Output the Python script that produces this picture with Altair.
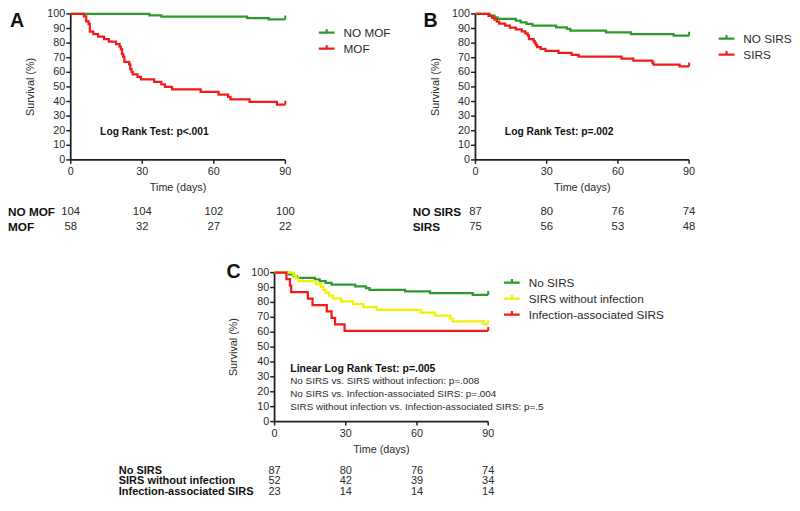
import altair as alt
import pandas as pd

# ---------------- data ----------------
x_ticks = [0, 30, 60, 90]
y_ticks = [0, 10, 20, 30, 40, 50, 60, 70, 80, 90, 100]
risk_times = [0, 30, 60, 90]

# Panel A
A_groups = ["NO MOF", "MOF"]
A_nomof_t = [0, 33, 38, 74, 83, 90]
A_nomof_v = [100, 99.0, 98.1, 97.1, 96.2, 96.2]
A_mof_t = [0, 5.5, 6.5, 7.5, 8, 9.5, 11.5, 14, 16, 19, 20.5, 21, 21.5, 22, 22.5, 24.5,
           25, 25.5, 26, 28, 29.5, 35, 38, 39.5, 42.5, 54.5, 62, 66, 67, 75, 86.5, 90]
A_mof_v = [100, 98.3, 94.8, 93.1, 87.9, 86.2, 84.5, 82.8, 81.0, 79.3, 77.6, 75.9, 72.4, 70.7,
           67.2, 65.5, 62.1, 60.3, 58.6, 56.9, 55.2, 53.4, 51.7, 50.0, 48.3, 46.6, 44.8, 43.1,
           41.4, 39.7, 37.9, 37.9]
A_risk_nomof = [104, 104, 102, 100]
A_risk_mof = [58, 32, 27, 22]
A_note = "Log Rank Test: p<.001"

# Panel B
B_groups = ["NO SIRS", "SIRS"]
nosirs_t = [0, 6, 8, 9.3, 17, 19, 21.5, 24, 34, 38.5, 40, 55, 65.5, 83.5, 90]
nosirs_v = [100, 98.85, 97.7, 96.55, 95.4, 94.25, 93.1, 91.95, 90.8, 89.66, 88.5, 87.36,
            86.2, 85.06, 85.06]
B_sirs_t = [0, 5.5, 7, 8, 9, 10, 12.5, 14.5, 17, 19.5, 21, 22, 22.5, 24.5, 25, 25.5, 26,
            27.5, 29.5, 35, 40.5, 43.5, 61.5, 66.5, 74.5, 75, 86, 90]
B_sirs_v = [100, 98.67, 97.33, 96.0, 94.67, 93.33, 92.0, 90.67, 89.33, 88.0, 86.67, 85.33,
            82.67, 81.33, 80.0, 78.67, 77.33, 76.0, 74.67, 73.33, 72.0, 70.67, 69.33, 68.0,
            66.67, 65.33, 64.0, 64.0]
B_risk_nosirs = [87, 80, 76, 74]
B_risk_sirs = [75, 56, 53, 48]
B_note = "Log Rank Test: p=.002"

# Panel C
C_groups = ["No SIRS", "SIRS without infection", "Infection-associated SIRS"]
C_noinf_t = [0, 8, 9, 10, 17.5, 19.5, 20.5, 21.5, 23, 24.5, 28, 33, 37.5, 43, 61.5, 67.5,
             74, 75, 88, 90]
C_noinf_v = [100, 98.08, 96.15, 94.23, 92.31, 90.38, 88.46, 86.54, 84.62, 82.69, 80.77,
             78.85, 76.92, 75.0, 73.08, 71.15, 69.23, 67.31, 65.38, 65.38]
C_inf_t = [0, 5, 6.5, 7, 14, 16, 22, 24, 25.5, 29.5, 90]
C_inf_v = [100, 95.65, 91.3, 86.96, 82.61, 78.26, 73.91, 69.57, 65.22, 60.87, 60.87]
C_risk_nosirs = [87, 80, 76, 74]
C_risk_noinf = [52, 42, 39, 34]
C_risk_inf = [23, 14, 14, 14]
C_note_main = "Linear Log Rank Test: p=.005"
C_notes = ["No SIRS vs. SIRS without infection: p=.008",
           "No SIRS vs. Infection-associated SIRS: p=.004",
           "SIRS without infection vs. Infection-associated SIRS: p=.5"]

# ---------------- styling ----------------
S = 0.98
def P(v):          # sizes
    return round(v * S, 2)
def PX(v):         # horizontal positions (reference pixels -> chart pixels)
    return round(v * S, 2)
def PY(v):         # vertical positions
    return round(v * S + 1, 2)

FONT = "Liberation Sans"
AX = "#1e1e1e"
TXT = "#2a2a2a"
GREEN = "#2e9a2e"
RED = "#f01c1c"
YELLOW = "#f2f200"
SYM = "M-1,0L1,0M0,0L0,-0.45"
one = pd.DataFrame({"k": [0]})


def curves_df(groups, ts, vs):
    rows = []
    for g, t, v in zip(groups, ts, vs):
        for a, b in zip(t, v):
            rows.append({"g": g, "t": a, "v": b})
    return pd.DataFrame(rows)


def panel(groups, ts, vs, colors, geo, legend_xy, letter, letter_xy, ytitle_x,
          xtitle_y, notes):
    x0, x90, y0, y100 = geo
    xs = alt.Scale(domain=[0, 90], range=[PX(x0), PX(x90)], nice=False, zero=False)
    ys = alt.Scale(domain=[0, 100], range=[PY(y0), PY(y100)], nice=False, zero=False)
    cs = alt.Scale(domain=groups, range=colors)
    leg = alt.Legend(orient="none", legendX=PX(legend_xy[0]), legendY=PY(legend_xy[1]),
                     title=None, symbolType=SYM, symbolSize=P(16) ** 2,
                     symbolStrokeWidth=P(2.2), labelFont=FONT, labelFontSize=P(12),
                     labelColor=TXT, labelOffset=P(8), rowPadding=0, padding=0)
    X = lambda: alt.X("t:Q", scale=xs, axis=None)
    Y = lambda: alt.Y("v:Q", scale=ys, axis=None)
    C = lambda: alt.Color("g:N", scale=cs, legend=leg)

    df = curves_df(groups, ts, vs)
    lines = alt.Chart(df).mark_line(interpolate="step-after", strokeWidth=P(2.3)).encode(
        x=X(), y=Y(), color=C())
    ends = pd.DataFrame({"g": groups, "t": [t[-1] for t in ts], "v": [v[-1] for v in vs]})
    endticks = alt.Chart(ends).mark_rule(strokeWidth=P(2), y2Offset=-P(4)).encode(
        x=X(), y=Y(), y2=alt.Y2("v:Q"), color=C())

    ydom = alt.Chart(one).mark_rule(color=AX, strokeWidth=P(1.8)).encode(
        x=alt.XDatum(0, scale=xs, axis=None), y=alt.YDatum(0, scale=ys, axis=None),
        y2=alt.Y2Datum(100))
    xdom = alt.Chart(one).mark_rule(color=AX, strokeWidth=P(1.8)).encode(
        y=alt.YDatum(0, scale=ys, axis=None), x=alt.XDatum(0, scale=xs, axis=None),
        x2=alt.X2Datum(90))
    yt = pd.DataFrame({"v": y_ticks})
    ytick = alt.Chart(yt).mark_rule(color=AX, strokeWidth=P(1.5), xOffset=-P(4.5)).encode(
        x=alt.XDatum(0, scale=xs, axis=None), x2=alt.X2Datum(0), y=Y())
    ylab = alt.Chart(yt).mark_text(align="right", baseline="middle", dx=-P(5.5),
                                   font=FONT, fontSize=P(11), color=TXT).encode(
        x=alt.XDatum(0, scale=xs, axis=None), y=Y(), text="v:Q")
    xt = pd.DataFrame({"t": x_ticks})
    xtick = alt.Chart(xt).mark_rule(color=AX, strokeWidth=P(1.5), y2Offset=P(4)).encode(
        x=X(), y=alt.YDatum(0, scale=ys, axis=None), y2=alt.Y2Datum(0))
    xlab = alt.Chart(xt).mark_text(align="center", baseline="middle", dy=P(12.5),
                                   font=FONT, fontSize=P(11), color=TXT).encode(
        x=X(), y=alt.YDatum(0, scale=ys, axis=None), text="t:Q")
    xtitle = alt.Chart(one).mark_text(text="Time (days)", font=FONT, fontSize=P(11),
                                      color=TXT, baseline="middle").encode(
        x=alt.XDatum(45, scale=xs, axis=None), y=alt.value(PY(xtitle_y)))
    ytitle = alt.Chart(one).mark_text(text="Survival (%)", font=FONT, fontSize=P(11),
                                      color=TXT, angle=270, baseline="middle").encode(
        x=alt.value(PX(ytitle_x)), y=alt.YDatum(50, scale=ys, axis=None))
    lab = alt.Chart(one).mark_text(text=letter, font=FONT, fontSize=P(20), fontWeight="bold",
                                   color="#111", align="left", baseline="middle").encode(
        x=alt.value(PX(letter_xy[0])), y=alt.value(PY(letter_xy[1])))
    layers = [ydom, xdom, ytick, ylab, xtick, xlab, xtitle, ytitle, lab, lines, endticks]
    for (txt, nx, ny, size, bold) in notes:
        layers.append(alt.Chart(one).mark_text(
            text=txt, font=FONT, fontSize=P(size), fontWeight="bold" if bold else "normal",
            color="#111" if bold else TXT, align="left", baseline="middle").encode(
            x=alt.value(PX(nx)), y=alt.value(PY(ny))))
    return alt.layer(*layers)


def risk(groups, counts, geo, label_x, row_y, label_size=12, num_size=11.5):
    x0, x90 = geo
    xs = alt.Scale(domain=[0, 90], range=[PX(x0), PX(x90)], nice=False, zero=False)
    ys = alt.Scale(type="point", domain=groups, range=[PY(row_y[0]), PY(row_y[1])],
                   padding=0)
    rows = []
    for g, c in zip(groups, counts):
        for t, n in zip(risk_times, c):
            rows.append({"g": g, "t": t, "n": n})
    df = pd.DataFrame(rows)
    nums = alt.Chart(df).mark_text(font=FONT, fontSize=P(num_size), color=TXT,
                                   baseline="middle").encode(
        x=alt.X("t:Q", scale=xs, axis=None), y=alt.Y("g:N", scale=ys, axis=None), text="n:Q")
    labs = alt.Chart(pd.DataFrame({"g": groups})).mark_text(
        font=FONT, fontSize=P(label_size), fontWeight="bold", color="#111", align="left",
        baseline="middle").encode(
        x=alt.value(PX(label_x)), y=alt.Y("g:N", scale=ys, axis=None), text="g:N")
    return alt.layer(nums, labs)


pA = panel(A_groups, [A_nomof_t, A_mof_t], [A_nomof_v, A_mof_v], [GREEN, RED],
           (64, 283, 154, 5), (316, 15), "A", (2, 12.5), 23, 183,
           [(A_note, 94, 125, 10.5, True)])
rA = risk(A_groups, [A_risk_nomof, A_risk_mof], (64, 283), 0, (207, 222))

pB = panel(B_groups, [nosirs_t, B_sirs_t], [nosirs_v, B_sirs_v], [GREEN, RED],
           (477, 695, 154, 5), (724, 21), "B", (424, 12), 437, 183,
           [(B_note, 507, 125, 10.5, True)])
rB = risk(B_groups, [B_risk_nosirs, B_risk_sirs], (477, 695), 413, (207, 222))

pC = panel(C_groups, [nosirs_t, C_noinf_t, C_inf_t], [nosirs_v, C_noinf_v, C_inf_v],
           [GREEN, YELLOW, RED], (272, 490, 421, 269), (505, 270), "C", (223, 268.5),
           231, 450,
           [(C_note_main, 288, 367, 10.7, True), (C_notes[0], 288, 380, 10.1, False),
            (C_notes[1], 288, 393, 10.1, False), (C_notes[2], 288, 406, 10.1, False)])
rC = risk(C_groups, [C_risk_nosirs, C_risk_noinf, C_risk_inf], (272, 490), 113, (471, 493),
          label_size=11.2, num_size=11.2)

chart = alt.layer(pA, rA, pB, rB, pC, rC).resolve_scale(
    x="independent", y="independent", color="independent"
).resolve_legend(color="independent").properties(
    width=784, height=490, padding=0, autosize=alt.AutoSizeParams(type="none"),
    background="white"
).configure_view(stroke=None)

chart.save("out.html", embed_options={"renderer": "svg", "actions": False})
